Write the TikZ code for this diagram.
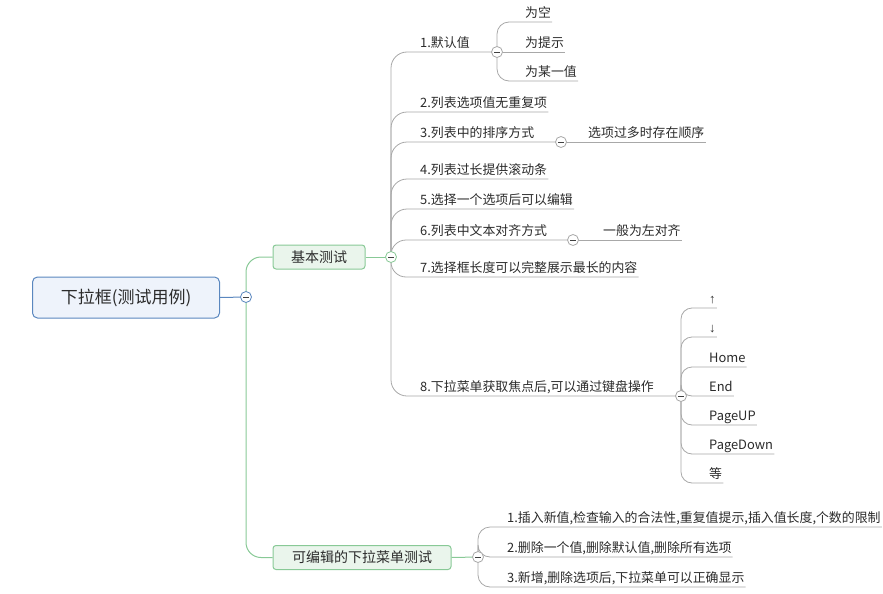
\documentclass[tikz,border=0pt]{standalone}
\usepackage{fontspec}
\setmainfont{Noto Sans CJK SC}
\newfontfamily\arrowfont{Liberation Sans}
\definecolor{txt}{HTML}{2B2B2B}
\definecolor{lgray}{HTML}{A8A8A8}
\definecolor{lgreen}{HTML}{88C996}
\definecolor{gfill}{HTML}{EAF5EC}
\definecolor{bfill}{HTML}{EEF3FB}
\definecolor{bdraw}{HTML}{5A87BF}
\begin{document}
\begin{tikzpicture}[x=1pt,y=-1pt,
  leaf/.style={anchor=south west, inner xsep=1pt, inner ysep=1.5pt, text height=10pt, text depth=2.5pt, font=\fontsize{12.9}{15}\selectfont, text=txt},
  gline/.style={draw=lgray, line width=0.8pt},
  grline/.style={draw=lgreen, line width=1pt},
  bline/.style={draw=bdraw, line width=1pt},
  rootbox/.style={draw=bdraw, fill=bfill, line width=1pt, rounded corners=5pt, minimum width=187pt, minimum height=41pt, font=\fontsize{17}{20}\selectfont, text=txt},
  mainbox/.style={draw=lgreen, fill=gfill, line width=1pt, rounded corners=3pt, minimum height=24pt, font=\fontsize{14}{17}\selectfont, text=txt},
  colbtn/.style={circle, draw=#1, fill=white, minimum size=11pt, inner sep=0pt, line width=0.8pt,
    path picture={\draw[line width=0.9pt, black!75] ([xshift=-2.8pt]path picture bounding box.center) -- ([xshift=2.8pt]path picture bounding box.center);}}
]
\useasboundingbox (0,0) rectangle (883,594);
% collapse button positions
\coordinate (rc) at (246,297);
\coordinate (bc) at (391,257);
\coordinate (cc) at (478,557);
\coordinate (c1) at (497,52);
\coordinate (c3) at (561,142);
\coordinate (c6) at (573,240);
\coordinate (c8) at (681,396);
% main nodes
\node[rootbox] (root) at (126,297.5) {下拉框(测试用例)};
\node[mainbox, minimum width=92pt] (b1) at (319,257) {基本测试};
\node[mainbox, minimum width=178pt] (b2) at (362,557.5) {可编辑的下拉菜单测试};
% items of 基本测试
\node[leaf] (i1) at (419,52) {1.默认值};
\node[leaf] (i2) at (419,112) {2.列表选项值无重复项};
\node[leaf] (i3) at (419,142) {3.列表中的排序方式};
\node[leaf] (i4) at (419,179) {4.列表过长提供滚动条};
\node[leaf] (i5) at (419,209) {5.选择一个选项后可以编辑};
\node[leaf] (i6) at (419,240) {6.列表中文本对齐方式};
\node[leaf] (i7) at (419,277) {7.选择框长度可以完整展示最长的内容};
\node[leaf] (i8) at (419,396) {8.下拉菜单获取焦点后,可以通过键盘操作};
% sub items
\node[leaf] (s11) at (524,22) {为空};
\node[leaf] (s12) at (524,52) {为提示};
\node[leaf] (s13) at (524,81) {为某一值};
\node[leaf] (s31) at (587,142) {选项过多时存在顺序};
\node[leaf] (s61) at (602,240) {一般为左对齐};
\node[leaf] (k1) at (708,308) {\arrowfont ↑};
\node[leaf] (k2) at (708,337) {\arrowfont ↓};
\node[leaf] (k3) at (708,367) {Home};
\node[leaf] (k4) at (708,396) {End};
\node[leaf] (k5) at (708,425) {PageUP};
\node[leaf] (k6) at (708,454) {PageDown};
\node[leaf] (k7) at (708,483) {等};
% items of 可编辑的下拉菜单测试
\node[leaf] (e1) at (506,527) {1.插入新值,检查输入的合法性,重复值提示,插入值长度,个数的限制};
\node[leaf] (e2) at (506,557) {2.删除一个值,删除默认值,删除所有选项};
\node[leaf] (e3) at (506,587) {3.新增,删除选项后,下拉菜单可以正确显示};
% connectors
\draw[bline] (root.east) -- (rc);
\draw[grline, rounded corners=15pt] (rc) |- (b1.west);
\draw[grline, rounded corners=15pt] (rc) |- (b2.west);
\draw[grline] (b1.east) -- (bc);
\draw[grline] (b2.east) -- (cc);
\draw[gline, rounded corners=16pt] (bc) |- (c1);
\draw[gline, rounded corners=16pt] (bc) |- (i2.south east);
\draw[gline, rounded corners=16pt] (bc) |- (c3);
\draw[gline, rounded corners=16pt] (bc) |- (i4.south east);
\draw[gline, rounded corners=16pt] (bc) |- (i5.south east);
\draw[gline, rounded corners=15pt] (bc) |- (c6);
\draw[gline, rounded corners=15pt] (bc) |- (i7.south east);
\draw[gline, rounded corners=16pt] (bc) |- (c8);
\draw[gline, rounded corners=12pt] (c1) |- (s11.south east);
\draw[gline] (c1) -- (s12.south east);
\draw[gline, rounded corners=12pt] (c1) |- (s13.south east);
\draw[gline] (c3) -- (s31.south east);
\draw[gline] (c6) -- (s61.south east);
\foreach \k in {k1,k2,k3,k4,k5,k6,k7}
  \draw[gline, rounded corners=11pt] (c8) |- (\k.south east);
\foreach \k in {e1,e2,e3}
  \draw[gline, rounded corners=12pt] (cc) |- (\k.south east);
% collapse buttons
\node[colbtn=bdraw] (rcb) at (rc) {};
\node[colbtn=lgreen] (bcb) at (bc) {};
\node[colbtn=lgray] (ccb) at (cc) {};
\node[colbtn=lgray] (c1b) at (c1) {};
\node[colbtn=lgray] (c3b) at (c3) {};
\node[colbtn=lgray] (c6b) at (c6) {};
\node[colbtn=lgray] (c8b) at (c8) {};
\end{tikzpicture}
\end{document}
